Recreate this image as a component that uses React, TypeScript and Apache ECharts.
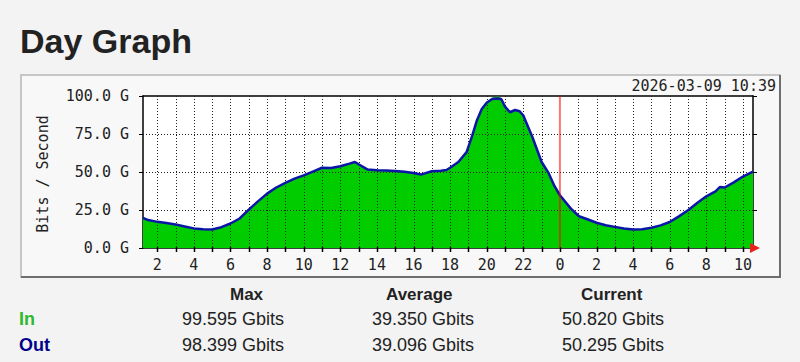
import React, { useEffect, useRef } from "react";
import * as echarts from "echarts";

const hours = [
  1.22, 1.5, 2, 2.5, 3, 3.5, 4, 4.5, 5, 5.5, 6, 6.5, 7, 7.5, 8, 8.5, 9, 9.5, 10, 10.5, 11, 11.5, 12,
  12.5, 12.8, 13, 13.5, 14, 14.5, 15, 15.5, 16, 16.4, 17, 17.5, 17.8, 18, 18.45, 18.9, 19.2, 19.45,
  19.73, 20, 20.3, 20.6, 20.8, 21, 21.27, 21.55, 21.8, 22, 22.5, 23, 23.36, 23.7, 24, 24.6, 25.04,
  25.5, 26, 26.5, 27, 27.5, 28, 28.5, 29, 29.5, 30, 30.5, 31, 31.5, 32, 32.5, 32.75, 33, 33.5, 34,
  34.55,
];
const inValues = [
  20, 18.5, 17.3, 16.5, 15.6, 14.3, 13, 12.4, 12.3, 13.8, 16.2, 19.5, 25.4, 30.9, 36, 40, 43, 45.8, 48,
  50.5, 53, 52.8, 54, 55.7, 56.8, 55.3, 51.8, 51.3, 51.2, 50.9, 50.3, 49.5, 48.5, 50.7, 51, 51.5, 53,
  56.8, 63.4, 74, 84, 92, 96.3, 99, 99.6, 98.8, 93.5, 89.7, 91.2, 90.3, 87.5, 73.2, 56.8, 50, 41, 34.9,
  26.1, 21, 19, 16.7, 15.1, 14, 13, 12.3, 12.5, 13.4, 15, 17.3, 21, 25, 29.8, 34.2, 37.5, 40.4, 40,
  43.5, 47.4, 50.8,
];
const outValues = [
  19.8, 18.4, 17.2, 16.4, 15.5, 14.2, 12.9, 12.3, 12.2, 13.7, 16.1, 19.4, 25.2, 30.7, 35.8, 39.8, 42.8,
  45.6, 47.8, 50.3, 52.8, 52.6, 53.8, 55.5, 56.6, 55.1, 51.6, 51.1, 51, 50.7, 50.1, 49.3, 48.3, 50.5,
  50.8, 51.3, 52.8, 56.6, 63.1, 73.6, 83.5, 91.4, 95.6, 98, 98.4, 97.9, 93, 89.3, 90.8, 90, 87.2, 72.9,
  56.6, 49.8, 40.8, 34.7, 25.9, 20.9, 18.9, 16.6, 15, 13.9, 12.9, 12.2, 12.4, 13.3, 14.9, 17.1, 20.8,
  24.8, 29.6, 34, 37.3, 40.2, 39.8, 43.2, 47, 50.3,
];
const hourTicks = [
  2, 3, 4, 5, 6, 7, 8, 9, 10, 11, 12, 13, 14, 15, 16, 17, 18, 19, 20, 21, 22, 23, 24, 25, 26, 27, 28,
  29, 30, 31, 32, 33, 34,
];
const gridLevels = [25, 50, 75];
const midnight = [24];
const xStart = 1.22;
const xEnd = 34.55;

const title = "Day Graph";
const yAxisName = "Bits / Second";
const stamp = "2026-03-09 10:39";
const columns = ["Max", "Average", "Current"];
const rowNames = ["In", "Out"];
const inStats = ["99.595 Gbits", "39.350 Gbits", "50.820 Gbits"];
const outStats = ["98.399 Gbits", "39.096 Gbits", "50.295 Gbits"];

const MONO = '"DejaVu Sans Mono", monospace';
const SANS = '"Liberation Sans", Arial, sans-serif';

export default function App() {
  const ref = useRef<HTMLDivElement>(null);
  useEffect(() => {
    if (!ref.current) return;
    const chart = echarts.init(ref.current, null, { renderer: "svg" });

    const headerX = [230, 386, 581];
    const valueX = [182, 372, 562];
    const rowColors = ["#2db82d", "#00008b"];
    const rowStats = [inStats, outStats];

    const graphics: any[] = [
      {
        type: "rect",
        z: -10,
        shape: { x: 21, y: 75, width: 759, height: 202 },
        style: { fill: "#f8f8f8", stroke: "#c6c6c6", lineWidth: 2 },
      },
      {
        type: "line",
        z: -9,
        shape: { x1: 21, y1: 277, x2: 781, y2: 277 },
        style: { stroke: "#6e6e6e", lineWidth: 2 },
      },
      {
        type: "line",
        z: -9,
        shape: { x1: 780, y1: 75, x2: 780, y2: 278 },
        style: { stroke: "#6e6e6e", lineWidth: 2 },
      },
      {
        type: "text",
        x: 20,
        y: 41,
        style: {
          text: title,
          fill: "#222",
          font: `bold 34px ${SANS}`,
          align: "left",
          verticalAlign: "middle",
        },
      },
      {
        type: "text",
        x: 43,
        y: 174,
        rotation: Math.PI / 2,
        style: {
          text: yAxisName,
          fill: "#222",
          font: `15px ${MONO}`,
          align: "center",
          verticalAlign: "middle",
        },
      },
      {
        type: "text",
        x: 776,
        y: 86,
        style: {
          text: stamp,
          fill: "#222",
          font: `15px ${MONO}`,
          align: "right",
          verticalAlign: "middle",
        },
      },
      {
        type: "polygon",
        z: 50,
        shape: { points: [[750, 243], [760, 248], [750, 253]] },
        style: { fill: "#e8231a" },
      },
    ];
    columns.forEach((c, i) => {
      graphics.push({
        type: "text",
        x: headerX[i],
        y: 294,
        style: { text: c, fill: "#222", font: `bold 17px ${SANS}`, align: "left", verticalAlign: "middle" },
      });
    });
    rowNames.forEach((r, ri) => {
      const y = 319 + ri * 26;
      graphics.push({
        type: "text",
        x: 19,
        y,
        style: { text: r, fill: rowColors[ri], font: `bold 18px ${SANS}`, align: "left", verticalAlign: "middle" },
      });
      rowStats[ri].forEach((v, i) => {
        graphics.push({
          type: "text",
          x: valueX[i],
          y,
          style: { text: v, fill: "#222", font: `18px ${SANS}`, align: "left", verticalAlign: "middle" },
        });
      });
    });

    const option: any = {
      animation: false,
      backgroundColor: "#f3f3f3",
      grid: {
        left: 143,
        top: 96,
        width: 610,
        height: 152,
        show: true,
        backgroundColor: "#ffffff",
        borderWidth: 0,
      },
      xAxis: [
        {
          type: "value",
          min: xStart,
          max: xEnd,
          axisLine: { show: true, onZero: false, lineStyle: { color: "#000", width: 1.5 } },
          axisTick: { show: false },
          axisLabel: { show: false },
          splitLine: { show: false },
        },
        {
          type: "value",
          position: "top",
          min: xStart,
          max: xEnd,
          axisLine: { show: true, onZero: false, lineStyle: { color: "#000", width: 1.5 } },
          axisTick: { show: false },
          axisLabel: { show: false },
          splitLine: { show: false },
        },
      ],
      yAxis: [
        {
          type: "value",
          min: 0,
          max: 100,
          interval: 25,
          axisLine: { show: true, lineStyle: { color: "#000", width: 1.5 } },
          axisTick: { show: true, inside: false, length: 4, lineStyle: { color: "#000" } },
          axisLabel: {
            formatter: (v: number) => v.toFixed(1) + " G",
            fontFamily: MONO,
            fontSize: 15,
            color: "#222",
            margin: 14,
          },
          splitLine: { show: false },
        },
        {
          type: "value",
          position: "right",
          min: 0,
          max: 100,
          interval: 25,
          axisLine: { show: true, lineStyle: { color: "#000", width: 1.5 } },
          axisTick: { show: true, inside: false, length: 4, lineStyle: { color: "#000" } },
          axisLabel: { show: false },
          splitLine: { show: false },
        },
      ],
      series: [
        {
          name: "In",
          type: "line",
          data: hours.map((h, i) => [h, inValues[i]]),
          showSymbol: false,
          symbol: "none",
          lineStyle: { width: 0, color: "#00cc00" },
          areaStyle: { color: "#00cc00", opacity: 1 },
          z: 2,
        },
        {
          name: "hgrid",
          type: "custom",
          data: gridLevels.map((v) => [xStart, v]),
          z: 3,
          silent: true,
          renderItem: (params: any, api: any) => {
            const v = api.value(1);
            const a = api.coord([xStart, v]);
            const b = api.coord([xEnd, v]);
            const y = Math.round(a[1]) + 0.5;
            return {
              type: "line",
              shape: { x1: a[0], y1: y, x2: b[0], y2: y },
              style: { stroke: "#222", lineWidth: 1, lineDash: [1, 2] },
            };
          },
        },
        {
          name: "vgrid",
          type: "custom",
          data: hourTicks.map((h) => [h, 0]),
          z: 3,
          silent: true,
          clip: false,
          renderItem: (params: any, api: any) => {
            const h = api.value(0);
            const bottom = api.coord([h, 0]);
            const top = api.coord([h, 100]);
            const x = Math.round(bottom[0]) + 0.5;
            const children: any[] = [];
            if (midnight.indexOf(h) < 0) {
              children.push({
                type: "line",
                shape: { x1: x, y1: top[1], x2: x, y2: bottom[1] },
                style: { stroke: "#222", lineWidth: 1, lineDash: [1, 2] },
              });
            }
            children.push({
              type: "line",
              shape: { x1: x, y1: bottom[1] - 1, x2: x, y2: bottom[1] + 4 },
              style: { stroke: "#000", lineWidth: 1.5 },
            });
            if (h % 2 === 0) {
              children.push({
                type: "text",
                x: bottom[0],
                y: bottom[1] + 17,
                style: {
                  text: String(h % 24),
                  fill: "#222",
                  font: `15px ${MONO}`,
                  align: "center",
                  verticalAlign: "middle",
                },
              });
            }
            return { type: "group", children };
          },
        },
        {
          name: "Out",
          type: "line",
          data: hours.map((h, i) => [h, outValues[i]]),
          showSymbol: false,
          symbol: "none",
          lineStyle: { width: 2.5, color: "#0c16a6" },
          z: 4,
        },
        {
          name: "midnight",
          type: "custom",
          data: midnight.map((h) => [h, 0]),
          z: 5,
          silent: true,
          renderItem: (params: any, api: any) => {
            const h = api.value(0);
            const bottom = api.coord([h, 0]);
            const top = api.coord([h, 100]);
            return {
              type: "line",
              shape: { x1: bottom[0], y1: top[1], x2: bottom[0], y2: bottom[1] },
              style: { stroke: "rgba(255,0,0,0.55)", lineWidth: 2 },
            };
          },
        },
      ],
      graphic: graphics,
    };
    chart.setOption(option);
    return () => chart.dispose();
  }, []);
  return (
    <div
      ref={ref}
      style={{ position: "absolute", left: 0, top: 0, width: 800, height: 362 }}
    />
  );
}
